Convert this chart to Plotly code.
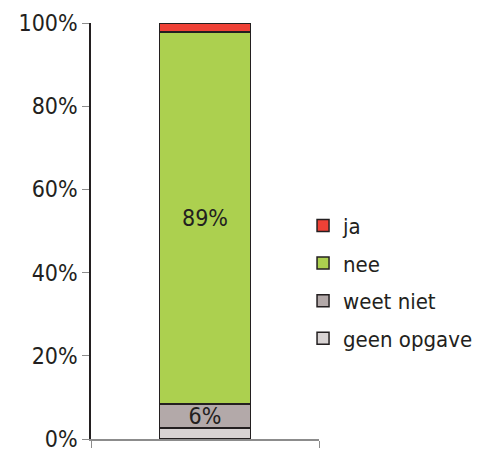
import plotly.graph_objects as go

# stacked shares (bottom to top)
categories = ["geen opgave", "weet niet", "nee", "ja"]
shares = [2.7, 5.7, 89.4, 2.2]
labels = ["", "6%", "89%", ""]
colors = ["#d8d3d3", "#b3a9a9", "#acd04f", "#ef4136"]
legend_rank = [4, 3, 2, 1]

y_ticks = [0, 20, 40, 60, 80, 100]

FONT = "DejaVu Sans Condensed, DejaVu Sans"

fig = go.Figure()

for name, val, lab, col, rank in zip(categories, shares, labels, colors, legend_rank):
    fig.add_trace(go.Bar(
        x=["totaal"],
        y=[val],
        name=name,
        legendgroup=name,
        legendrank=rank,
        text=[lab],
        textposition="inside",
        insidetextanchor="middle",
        textangle=0,
        constraintext="none",
        textfont=dict(size=23, color="#231f20"),
        marker=dict(color=col, line=dict(color="#231f20", width=1.5)),
        width=0.4,
        hoverinfo="skip",
    ))

# page body has an 8px margin, so the figure is sized to the visible area
fig.update_layout(
    barmode="stack",
    width=473,
    height=441,
    margin=dict(l=83, r=162, t=15, b=10, autoexpand=False),
    plot_bgcolor="white",
    paper_bgcolor="white",
    font=dict(family=FONT, size=23, color="#231f20"),
    showlegend=True,
    legend=dict(
        traceorder="grouped",
        tracegroupgap=6,
        x=0.93,
        xanchor="left",
        y=0.377,
        yanchor="middle",
        font=dict(size=22),
        bgcolor="rgba(0,0,0,0)",
    ),
)

fig.update_yaxes(
    range=[0, 100],
    tickvals=y_ticks,
    ticktext=[f"{v}%" for v in y_ticks],
    ticks="outside",
    ticklen=7,
    tickcolor="#8c8c8c",
    showline=True,
    linecolor="#231f20",
    linewidth=1.5,
    showgrid=False,
    zeroline=False,
    tickfont=dict(size=23),
    ticklabeloverflow="allow",
)

fig.update_xaxes(
    showticklabels=False,
    ticks="outside",
    tickson="boundaries",
    ticklen=7,
    tickcolor="#8c8c8c",
    showline=True,
    linecolor="#8c8c8c",
    linewidth=2,
    showgrid=False,
)

fig.write_html("out.html")
